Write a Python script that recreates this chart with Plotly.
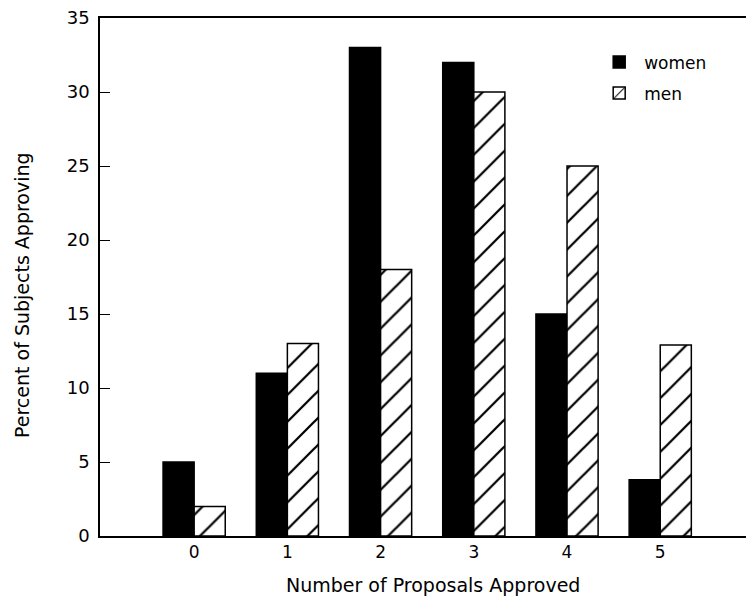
import plotly.graph_objects as go

categories = ["0", "1", "2", "3", "4", "5"]
women = [5, 11, 33, 32, 15, 3.8]
men = [2, 13, 18, 30, 25, 12.9]
y_ticks = [0, 5, 10, 15, 20, 25, 30, 35]
x_title = "Number of Proposals Approved"
y_title = "Percent of Subjects Approving"

FONT = "DejaVu Sans"

fig = go.Figure()
fig.add_trace(go.Bar(
    x=list(range(len(categories))), y=women, name="women", legendgroup="w",
    marker=dict(color="black", line=dict(color="black", width=1.5)),
))
fig.add_trace(go.Bar(
    x=list(range(len(categories))), y=men, name="men", legendgroup="m",
    marker=dict(color="white", line=dict(color="black", width=1.5),
                pattern=dict(shape="/", size=19, solidity=0.12,
                             fgcolor="black", bgcolor="white", fgopacity=1)),
))

fig.update_layout(
    width=746, height=600,
    margin=dict(l=100, r=0, t=18, b=64, autoexpand=False),
    paper_bgcolor="white", plot_bgcolor="white",
    barmode="group", bargap=0.333, bargroupgap=0,
    font=dict(family=FONT, color="black", size=16),
    showlegend=True,
    legend=dict(x=0.765, y=0.949, xanchor="left", yanchor="top",
                bgcolor="rgba(0,0,0,0)", font=dict(size=17, family=FONT),
                itemwidth=40, traceorder="grouped", tracegroupgap=6),
    xaxis=dict(
        tickmode="array", tickvals=list(range(len(categories))), ticktext=categories,
        range=[-1.01, 5.92], showgrid=False, zeroline=False, automargin=False,
        showline=True, linecolor="black", linewidth=1.5, mirror=True,
        ticks="", tickfont=dict(size=17, family=FONT),
    ),
    yaxis=dict(
        range=[0, 35], tickvals=y_ticks, showgrid=False, zeroline=False, automargin=False,
        showline=True, linecolor="black", linewidth=1.5,
        ticks="inside", ticklen=10, tickcolor="black", tickwidth=1.2,
        ticklabelstandoff=5,
        tickfont=dict(size=18, family=FONT),
    ),
    annotations=[
        dict(text=x_title, xref="paper", yref="paper", x=(433 - 100) / 646, y=(536 - 585) / 518,
             xanchor="center", yanchor="middle", showarrow=False, font=dict(size=19, family=FONT)),
        dict(text=y_title, xref="paper", yref="paper", x=(22 - 100) / 646, y=(536 - 295) / 518,
             xanchor="center", yanchor="middle", textangle=-90, showarrow=False,
             font=dict(size=19, family=FONT)),
    ],
)

fig.write_html("out.html", config={"displayModeBar": False},
               post_script="document.body.style.margin='0';document.body.style.overflow='hidden';")
